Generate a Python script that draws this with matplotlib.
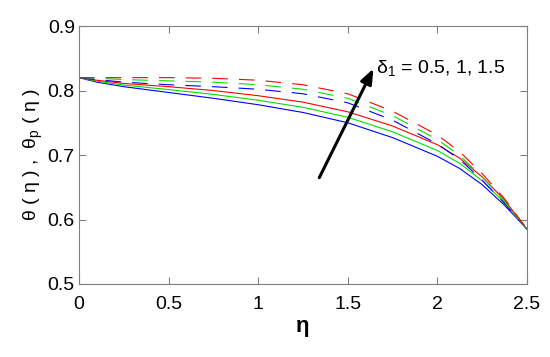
import matplotlib.pyplot as plt

plt.rcParams['font.family'] = ['Liberation Sans', 'DejaVu Sans']
plt.rcParams['mathtext.default'] = 'regular'

# eta grid and curves
eta = [0, 0.1, 0.25, 0.5, 0.75, 1.0, 1.25, 1.5, 1.75, 2.0, 2.125, 2.25, 2.375, 2.5]

# theta (solid) for delta_1 = 0.5, 1, 1.5
theta_blue = [0.820, 0.813, 0.806, 0.797, 0.788, 0.778, 0.766, 0.750, 0.727, 0.698, 0.679, 0.654, 0.622, 0.585]
theta_green = [0.820, 0.8145, 0.8085, 0.8015, 0.794, 0.785, 0.774, 0.7585, 0.736, 0.707, 0.687, 0.660, 0.626, 0.585]
theta_red = [0.820, 0.816, 0.811, 0.806, 0.800, 0.792, 0.782, 0.767, 0.745, 0.716, 0.695, 0.666, 0.630, 0.585]

# theta_p (dashed)
thetap_blue = [0.820, 0.817, 0.813, 0.809, 0.806, 0.802, 0.795, 0.781, 0.754, 0.717, 0.693, 0.661, 0.625, 0.585]
thetap_green = [0.820, 0.819, 0.817, 0.815, 0.813, 0.809, 0.802, 0.788, 0.761, 0.724, 0.699, 0.666, 0.628, 0.585]
thetap_red = [0.820, 0.820, 0.820, 0.820, 0.819, 0.816, 0.809, 0.795, 0.768, 0.731, 0.705, 0.671, 0.632, 0.585]

xticks = [0, 0.5, 1, 1.5, 2, 2.5]
xticklabels = ['0', '0.5', '1', '1.5', '2', '2.5']
yticks = [0.5, 0.6, 0.7, 0.8, 0.9]
yticklabels = ['0.5', '0.6', '0.7', '0.8', '0.9']

fig = plt.figure(figsize=(5.5, 3.57), dpi=100)
ax = fig.add_axes([0.1436, 0.2045, 0.8146, 0.7225])

for y, c in [(theta_blue, 'b'), (theta_green, '#00e000'), (theta_red, 'r')]:
    ax.plot(eta, y, color=c, lw=0.8)
for y, c in [(thetap_blue, 'b'), (thetap_green, '#00e000'), (thetap_red, 'r')]:
    ax.plot(eta, y, color=c, lw=0.8, dashes=(14, 10))

ax.annotate('', xy=(1.65, 0.838), xytext=(1.334, 0.661),
            arrowprops=dict(arrowstyle='-|>,head_length=0.9,head_width=0.35',
                            color='k', lw=2.2))
ax.text(1.66, 0.835, r'$\delta_1$ = 0.5, 1, 1.5', fontsize=14, va='center', ha='left')

ax.set_xlim(0, 2.5)
ax.set_ylim(0.5, 0.9)
ax.set_xticks(xticks)
ax.set_xticklabels(xticklabels)
ax.set_yticks(yticks)
ax.set_yticklabels(yticklabels)
ax.tick_params(direction='in', length=5, width=0.8, color='#808080',
               top=True, right=True, labelsize=14)
ax.tick_params(axis='x', pad=9)
ax.tick_params(axis='y', pad=3)
for s in ax.spines.values():
    s.set_color('#808080')
    s.set_linewidth(0.8)

ax.set_xlabel('η', fontsize=16, fontweight='bold', labelpad=2)
ax.set_ylabel('θ ( η ) ,  θ$_p$ ( η )', fontsize=14, labelpad=2)

fig.savefig('out.png', dpi=100)
